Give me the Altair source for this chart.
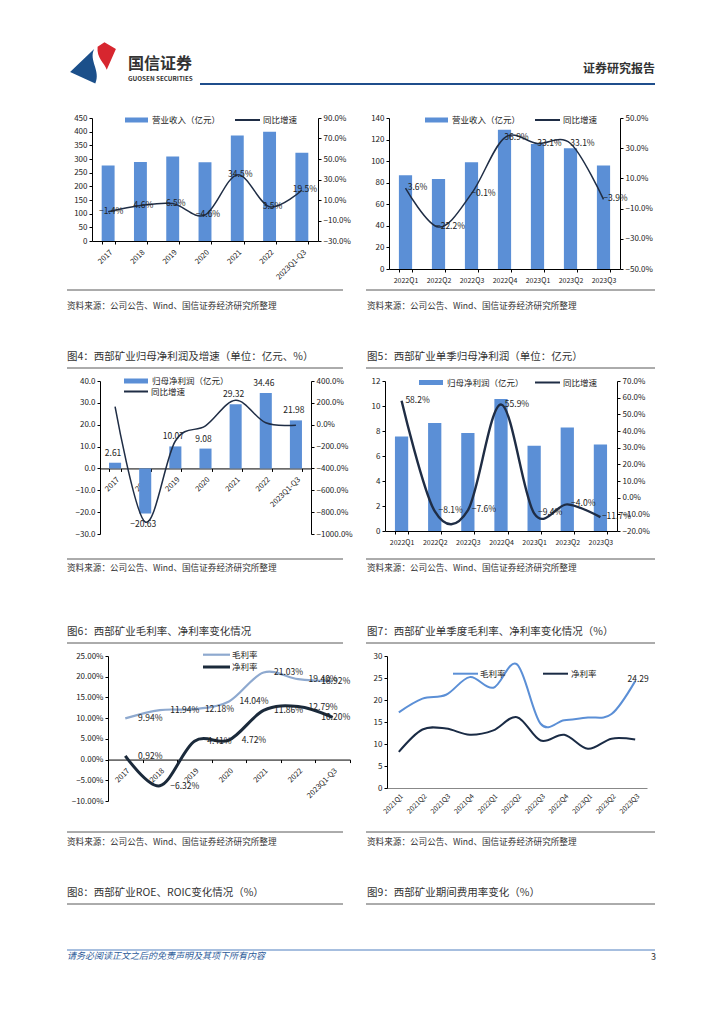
import altair as alt
import pandas as pd

FONT = "Noto Sans CJK SC"
BAR = "#5B8FD6"
NAVY = "#1F2D45"
TXT = "#222222"
RULE = "#595959"
PCT1 = "format(datum.value, '.1f') + '%'"
PCT2 = "format(datum.value, '.2f') + '%'"

# ---------------- data ----------------
years = ["2017", "2018", "2019", "2020", "2021", "2022", "2023Q1-Q3"]
rev_year = [276, 289, 309, 288, 386, 400, 323]
rev_year_growth = [-1.4, 4.6, 6.5, -4.6, 34.5, 3.5, 19.5]

quarters = ["2022Q1", "2022Q2", "2022Q3", "2022Q4", "2023Q1", "2023Q2", "2023Q3"]
rev_q = [87, 83.5, 99, 129, 116, 112, 96]
rev_q_growth = [3.6, -22.2, -0.1, 36.9, 33.1, 33.1, -3.9]

np_year = [2.61, -20.63, 10.07, 9.08, 29.32, 34.46, 21.98]
np_year_growth = [165, -890, -149, -10, 223, 18, -4]

np_q = [7.57, 8.65, 7.85, 10.57, 6.82, 8.28, 6.93]
np_q_growth = [58.2, -8.1, -7.6, 55.9, -9.4, -4.0, -11.7]

gm_year = [9.94, 11.94, 12.18, 14.04, 21.03, 19.40, 18.92]
nm_year = [0.92, -6.32, 4.41, 4.72, 11.86, 12.79, 10.20]

quarters11 = ["2021Q1", "2021Q2", "2021Q3", "2021Q4", "2022Q1", "2022Q2",
              "2022Q3", "2022Q4", "2023Q1", "2023Q2", "2023Q3"]
gm_q = [17.2, 20.3, 21.2, 25.2, 22.8, 28.1, 14.6, 15.4, 16.0, 16.8, 24.29]
nm_q = [8.2, 13.3, 13.5, 12.1, 13.1, 16.1, 10.8, 12.1, 8.9, 11.2, 11.0]

SOURCE = "资料来源：公司公告、Wind、国信证券经济研究所整理"


# ---------------- helpers ----------------
def one():
    return pd.DataFrame({"k": [0]})


def txt(s, x, y, size=9, color=TXT, align="left", weight="normal", style="normal"):
    return alt.Chart(pd.DataFrame({"t": [s]})).mark_text(
        font=FONT, fontSize=size, color=color, align=align, baseline="middle",
        fontWeight=weight, fontStyle=style
    ).encode(text="t:N", x=alt.value(x), y=alt.value(y))


def hline(x1, x2, y, color=RULE, w=1.0):
    return alt.Chart(one()).mark_rule(color=color, strokeWidth=w).encode(
        x=alt.value(x1), x2=alt.value(x2), y=alt.value(y))


def swatch(x1, x2, y1, y2, color):
    return alt.Chart(one()).mark_rect(color=color).encode(
        x=alt.value(x1), x2=alt.value(x2), y=alt.value(y1), y2=alt.value(y2))


def anchor(w, h):
    return alt.Chart(one()).mark_rect(opacity=0).encode(
        x=alt.value(0), x2=alt.value(w), y=alt.value(0), y2=alt.value(h))


def spacer(w, h=1):
    return anchor(w, h).properties(width=w, height=h)


def emblem(path, color, x, y, size):
    return alt.Chart(one()).mark_point(shape=path, filled=True, color=color, size=size,
                                       opacity=1, strokeWidth=0).encode(
        x=alt.value(x), y=alt.value(y))


def yaxis(values, orient="left", fmt=None, expr=None, domain_color="#000"):
    kw = dict(orient=orient, values=values, labelFont=FONT, labelFontSize=8, labelColor=TXT,
              domainColor=domain_color, tickColor="#000", tickSize=3, grid=False, labelPadding=2)
    if fmt:
        kw["format"] = fmt
    if expr:
        kw["labelExpr"] = expr
    return alt.Axis(**kw)


def xaxis(angle=0, offset=0.0, domain_color="#000", ticks=True, size=7.5):
    kw = dict(labelAngle=angle, labelFont=FONT, labelFontSize=size, labelColor=TXT,
              domainColor=domain_color, tickColor="#000", tickSize=3, tickBand="extent",
              grid=False, labelPadding=4, offset=offset, ticks=ticks, labelOverlap=False)
    if angle:
        kw.update(labelAlign="right", labelBaseline="top")
    return alt.Axis(**kw)


def legend_bar_line(bx1, bx2, by, text1, lx1, lx2, ly, text2):
    return [
        swatch(bx1, bx2, by - 2.5, by + 2.5, BAR),
        txt(text1, bx2 + 4, by, size=8.5),
        hline(lx1, lx2, ly, color=NAVY, w=2),
        txt(text2, lx2 + 3, ly, size=8.5),
    ]


def bar_line(cats, vals, growth, W, H, ydom, yvals, yfmt, gdom, gvals, legend,
             xangle=0, x_at_zero=False, glab_dx=3, glab_dy=0, line_w=1.5,
             bar_labels=False, growth_labels=True, xsize=7.5):
    df = pd.DataFrame({"cat": cats, "v": vals, "g": growth})
    xoff = -H * (-ydom[0]) / (ydom[1] - ydom[0]) if x_at_zero else 0
    x = alt.X("cat:N", sort=cats, title=None,
              scale=alt.Scale(paddingInner=0.6, paddingOuter=0.3),
              axis=xaxis(xangle, xoff, size=xsize))
    y = alt.Y("v:Q", title=None, scale=alt.Scale(domain=ydom, nice=False),
              axis=yaxis(yvals, "left", fmt=yfmt))
    g = alt.Y("g:Q", title=None, scale=alt.Scale(domain=gdom, nice=False),
              axis=yaxis(gvals, "right", expr=PCT1))
    left_layers = [alt.Chart(df).mark_bar(color=BAR).encode(x=x, y=y)]
    if bar_labels:
        left_layers.append(
            alt.Chart(df).transform_filter("datum.v >= 0")
            .transform_calculate(lbl="format(datum.v, '.2f')")
            .mark_text(font=FONT, fontSize=8.5, color=TXT, baseline="bottom", dy=-5, dx=-2)
            .encode(x=x, y=y, text="lbl:N"))
        left_layers.append(
            alt.Chart(df).transform_filter("datum.v < 0")
            .transform_calculate(lbl="format(datum.v, '.2f')")
            .mark_text(font=FONT, fontSize=8.5, color=TXT, baseline="top", dy=6, dx=-2)
            .encode(x=x, y=y, text="lbl:N"))
    right_layers = [alt.Chart(df).mark_line(color=NAVY, strokeWidth=line_w,
                                            interpolate="cardinal").encode(x=x, y=g)]
    if growth_labels:
        right_layers.append(
            alt.Chart(df).transform_calculate(lbl="format(datum.g, '.1f') + '%'")
            .mark_text(font=FONT, fontSize=8.5, color=TXT, dx=glab_dx, dy=glab_dy)
            .encode(x=x, y=g, text="lbl:N"))
    return (alt.layer(alt.layer(*left_layers), alt.layer(*right_layers), *legend)
            .resolve_scale(y="independent").properties(width=W, height=H))


def two_lines(cats, a, b, W, H, ydom, yvals, yexpr, ca, cb, wa, wb, legend,
              xangle=-45, x_at_zero=False, xdomain="#000", xticks=True, yfmt=None, labels="both",
              xsize=7.5):
    df = pd.DataFrame({"cat": cats, "a": a, "b": b})
    xoff = -H * (-ydom[0]) / (ydom[1] - ydom[0]) if x_at_zero else 0
    x = alt.X("cat:N", sort=cats, title=None,
              scale=alt.Scale(type="band", paddingInner=0, paddingOuter=0),
              axis=xaxis(xangle, xoff, domain_color=xdomain, ticks=xticks, size=xsize))
    ya = alt.Y("a:Q", title=None, scale=alt.Scale(domain=ydom, nice=False),
               axis=yaxis(yvals, "left", fmt=yfmt, expr=yexpr))
    yb = alt.Y("b:Q", title=None, scale=alt.Scale(domain=ydom, nice=False),
               axis=yaxis(yvals, "left", fmt=yfmt, expr=yexpr))
    la = alt.Chart(df).mark_line(color=ca, strokeWidth=wa, interpolate="cardinal").encode(x=x, y=ya)
    lb = alt.Chart(df).mark_line(color=cb, strokeWidth=wb, interpolate="cardinal").encode(x=x, y=yb)
    layers = [la, lb]
    last = cats[-1]
    if labels == "both":
        for fld, yy in (("a", ya), ("b", yb)):
            base = alt.Chart(df).transform_calculate(lbl=f"format(datum.{fld}, '.2f') + '%'")
            layers.append(base.transform_filter(f"datum.cat != '{last}'")
                          .mark_text(font=FONT, fontSize=8.5, color=TXT, dx=25)
                          .encode(x=x, y=yy, text="lbl:N"))
            layers.append(base.transform_filter(f"datum.cat == '{last}'")
                          .mark_text(font=FONT, fontSize=8.5, color=TXT, dx=3)
                          .encode(x=x, y=yy, text="lbl:N"))
    else:
        layers.append(alt.Chart(df).transform_filter(f"datum.cat == '{last}'")
                      .transform_calculate(lbl="format(datum.a, '.2f')")
                      .mark_text(font=FONT, fontSize=8.5, color=TXT, dx=3, dy=-2)
                      .encode(x=x, y=ya, text="lbl:N"))
    return alt.layer(*layers, *legend).properties(width=W, height=H)


# ---------------- charts ----------------
c1 = bar_line(years, rev_year, rev_year_growth, 226, 123,
              [0, 450], list(range(0, 451, 50)), "d",
              [-30, 90], [-30, -10, 10, 30, 50, 70, 90],
              legend_bar_line(33, 56, 2, "营业收入（亿元）", 143, 168, 2, "同比增速"),
              xangle=-45, glab_dx=3, glab_dy=-1)

c2 = bar_line(quarters, rev_q, rev_q_growth, 231, 151,
              [0, 140], list(range(0, 141, 20)), "d",
              [-50, 50], [-50, -30, -10, 10, 30, 50],
              legend_bar_line(36, 59, 2, "营业收入（亿元）", 146, 171, 2, "同比增速"),
              xangle=0, glab_dx=12, glab_dy=-1, xsize=7)

c4 = bar_line(years, np_year, np_year_growth, 211, 153,
              [-30, 40], list(range(-30, 41, 10)), ".1f",
              [-1000, 400], list(range(-1000, 401, 200)),
              legend_bar_line(24, 48, 0, "归母净利润（亿元）", 24, 48, 10.5, "同比增速"),
              xangle=-45, x_at_zero=True, bar_labels=True, growth_labels=False)

c5 = bar_line(quarters, np_q, np_q_growth, 232, 150,
              [0, 12], list(range(0, 13, 2)), "d",
              [-20, 70], list(range(-20, 71, 10)),
              legend_bar_line(34, 58, 1.5, "归母净利润（亿元）", 150, 175, 1.5, "同比增速"),
              xangle=0, glab_dx=16, glab_dy=-1, line_w=2.4, xsize=7)

GM6, NM6 = "#8EA9CF", "#1B2A3B"
c6 = two_lines(years, gm_year, nm_year, 242, 145, [-10, 25], list(range(-10, 26, 5)), PCT2,
               GM6, NM6, 2.2, 3,
               [hline(95, 122, -1.3, GM6, 2.2), txt("毛利率", 124, -1.3, size=8.5),
                hline(95, 122, 11, NM6, 3), txt("净利率", 124, 11, size=8.5)],
               xangle=-45, x_at_zero=True)

GM7, NM7 = "#5B8FD6", "#1A2B45"
c7 = two_lines(quarters11, gm_q, nm_q, 260, 132, [0, 30], list(range(0, 31, 5)), None,
               GM7, NM7, 2, 2,
               [hline(66, 91, 17.7, GM7, 2), txt("毛利率", 93, 17.7, size=8.5),
                hline(156, 181, 17.7, NM7, 2), txt("净利率", 184, 17.7, size=8.5)],
               xangle=-45, xdomain="#888", xticks=False, yfmt="d", labels="last", xsize=7)

# ---------------- page decorations ----------------
BLUE_PATH = "M -1 0.35 L 0.05 -0.65 C -0.2 -0.15 0.35 0.3 0.1 0.85 Z"
RED_PATH = "M 0.2 -0.75 L 0.5 -0.95 L 1 -0.65 L 0.6 0.25 C 0.5 -0.05 0.15 -0.25 0.2 -0.75 Z"

TITLE = 10.5
SRC = 8.6

header = alt.layer(
    anchor(708, 110),
    emblem(BLUE_PATH, "#1B4F8A", 85, 56, 2100),
    emblem(RED_PATH, "#D7262F", 85, 56, 2100),
    txt("国信证券", 120, 56, size=16, color="#333", weight="bold"),
    txt("GUOSEN SECURITIES", 120, 71, size=6.3, color="#333", weight="bold"),
    txt("证券研究报告", 647, 61, size=12, color="#333", align="right", weight="bold"),
    hline(192, 647, 76, color="#1F4E8C", w=2),
).properties(width=708, height=110)

# The nested rows take no height in the flush layout, so each band below starts at
# the top of the row above it and is as tall as the distance to the next row.
sepA = alt.layer(
    anchor(708, 263),
    hline(59, 335, 172), hline(358, 647, 172),
    txt(SOURCE, 59, 188, size=SRC, color="#333"),
    txt(SOURCE, 359, 188, size=SRC, color="#333"),
    txt("图4：西部矿业归母净利润及增速（单位：亿元、%）", 59, 239, size=TITLE, color="#333"),
    txt("图5：西部矿业单季归母净利润（单位：亿元）", 359, 239, size=TITLE, color="#333"),
    hline(59, 335, 250), hline(358, 647, 250),
).properties(width=708, height=263)

sepB = alt.layer(
    anchor(708, 275),
    hline(59, 335, 178), hline(358, 647, 178),
    txt(SOURCE, 59, 187, size=SRC, color="#333"),
    txt(SOURCE, 359, 187, size=SRC, color="#333"),
    txt("图6：西部矿业毛利率、净利率变化情况", 59, 251, size=TITLE, color="#333"),
    txt("图7：西部矿业单季度毛利率、净利率变化情况（%）", 359, 251, size=TITLE, color="#333"),
    hline(59, 335, 262), hline(358, 647, 262),
).properties(width=708, height=275)

footer = alt.layer(
    anchor(708, 345),
    hline(59, 335, 176), hline(358, 647, 176),
    txt(SOURCE, 59, 186, size=SRC, color="#333"),
    txt(SOURCE, 359, 186, size=SRC, color="#333"),
    txt("图8：西部矿业ROE、ROIC变化情况（%）", 59, 237, size=TITLE, color="#333"),
    txt("图9：西部矿业期间费用率变化（%）", 359, 237, size=TITLE, color="#333"),
    hline(59, 335, 248), hline(358, 647, 248),
    hline(59, 647, 294, color="#4F7FBF", w=1),
    txt("请务必阅读正文之后的免责声明及其项下所有内容", 59, 300, size=9, color="#2E5C9A", style="italic"),
    txt("3", 643, 301, size=9, color="#333"),
).properties(width=708, height=345)

row1 = alt.hconcat(spacer(84), c1, spacer(71), c2, spacing=0, bounds="flush")
row2 = alt.hconcat(spacer(92), c4, spacer(74), c5, spacing=0, bounds="flush")
row3 = alt.hconcat(spacer(100), c6, spacer(37), c7, spacing=0, bounds="flush")

chart = (alt.vconcat(header, row1, sepA, row2, sepB, row3, footer, spacing=0, bounds="flush")
         .configure_view(stroke=None)
         .properties(padding=0, background="white"))

chart.save("out.html", embed_options={"renderer": "svg", "actions": False})
